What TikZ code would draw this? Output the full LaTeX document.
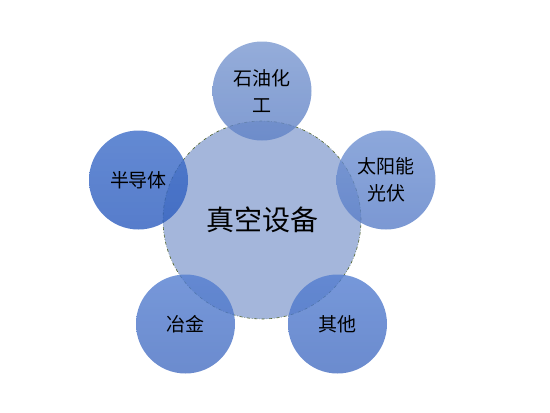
\documentclass[tikz,border=0pt]{standalone}
\usepackage{fontspec}
\setmainfont{Noto Sans CJK SC}
\definecolor{hubfill}{RGB}{164,182,219}
\definecolor{hubline}{RGB}{79,98,40}
\tikzset{
  hub/.style={circle,minimum size=198pt,inner sep=0pt,fill=hubfill,draw=hubline,
    dash dot,line width=0.6pt,font=\fontsize{28}{32}\selectfont},
  branch/.style={circle,minimum size=99pt,inner sep=0pt,fill opacity=0.8,text opacity=1,
    align=center,font=\fontsize{19}{27}\selectfont},
}
\begin{document}
\begin{tikzpicture}[x=1pt,y=-1pt]
\useasboundingbox (0,0) rectangle (550,413);
\node[hub] (vac) at (262,220) {真空设备};
\node[branch,top color={rgb,255:red,122;green,152;blue,208},bottom color={rgb,255:red,96;green,130;blue,198}] (petro) at (262,91) {石油化\\工};
\node[branch,top color={rgb,255:red,112;green,146;blue,210},bottom color={rgb,255:red,90;green,126;blue,200}] (solar) at (386,180) {太阳能\\光伏};
\node[branch,top color={rgb,255:red,60;green,108;blue,200},bottom color={rgb,255:red,44;green,92;blue,190}] (semi) at (138.5,180) {半导体};
\node[branch,top color={rgb,255:red,84;green,126;blue,208},bottom color={rgb,255:red,70;green,110;blue,194}] (metal) at (185.5,324) {冶金};
\node[branch,top color={rgb,255:red,84;green,126;blue,208},bottom color={rgb,255:red,70;green,110;blue,194}] (other) at (337.5,324) {其他};
\end{tikzpicture}
\end{document}
